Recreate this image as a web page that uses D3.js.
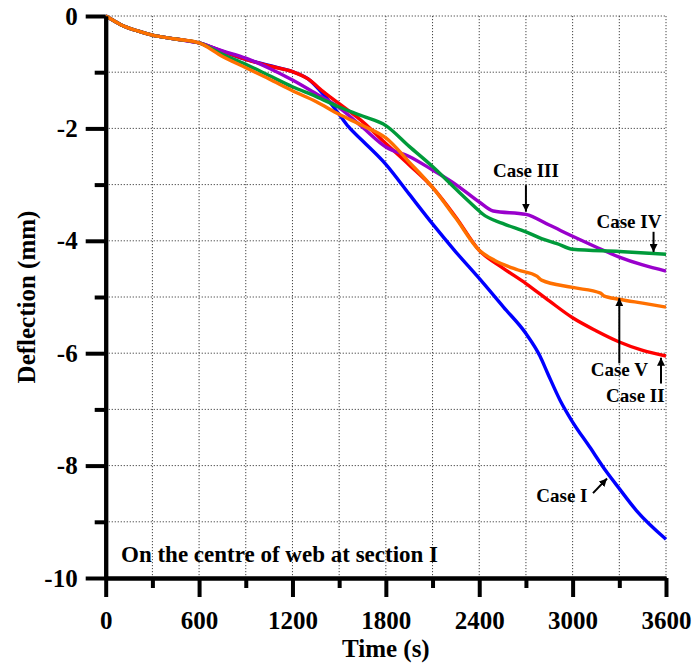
<!DOCTYPE html>
<html>
<head>
<meta charset="utf-8">
<script src="https://cdn.jsdelivr.net/npm/d3@7"></script>
<style>
  html, body { margin: 0; padding: 0; background: #fff; }
  svg { display: block; }
  text { font-family: "Liberation Serif", "Times New Roman", serif; font-weight: bold; fill: #000; }
</style>
</head>
<body>
<svg id="chart" width="694" height="666"></svg>
<script>
// ---------------- data ----------------
const xMajorTicks = [0, 600, 1200, 1800, 2400, 3000, 3600];
const xMinorTicks = [300, 900, 1500, 2100, 2700, 3300];
const yMajorTicks = [0, -2, -4, -6, -8, -10];
const yMinorTicks = [-1, -3, -5, -7, -9];
const xGrid = [300, 600, 900, 1200, 1500, 1800, 2100, 2400, 2700, 3000, 3300, 3600];
const yGrid = [0, -1, -2, -3, -4, -5, -6, -7, -8, -9];

const caseI = [[0,0],[50,-0.08],[100,-0.16],[200,-0.26],[300,-0.34],[450,-0.41],[600,-0.48],[750,-0.63],[900,-0.77],[1050,-0.88],[1200,-0.99],[1300,-1.12],[1400,-1.4],[1500,-1.75],[1560,-1.97],[1650,-2.22],[1800,-2.64],[1950,-3.17],[2100,-3.7],[2250,-4.2],[2400,-4.67],[2556,-5.18],[2700,-5.65],[2790,-6.05],[2840,-6.36],[2920,-6.84],[2990,-7.18],[3110,-7.67],[3220,-8.12],[3300,-8.41],[3410,-8.8],[3600,-9.31]];
const caseII = [[0,0],[50,-0.08],[100,-0.16],[200,-0.26],[300,-0.34],[450,-0.41],[600,-0.48],[750,-0.63],[900,-0.77],[1050,-0.89],[1200,-0.99],[1300,-1.12],[1400,-1.35],[1500,-1.56],[1650,-1.88],[1800,-2.27],[1950,-2.65],[2100,-3.05],[2250,-3.58],[2400,-4.17],[2550,-4.48],[2700,-4.76],[2850,-5.07],[3000,-5.37],[3150,-5.6],[3300,-5.8],[3450,-5.95],[3600,-6.05]];
const caseIII = [[0,0],[50,-0.08],[100,-0.16],[200,-0.26],[300,-0.34],[450,-0.41],[600,-0.48],[750,-0.62],[900,-0.75],[1050,-0.93],[1200,-1.14],[1350,-1.38],[1500,-1.63],[1650,-1.98],[1800,-2.33],[1950,-2.5],[2100,-2.74],[2250,-3.0],[2400,-3.31],[2490,-3.47],[2700,-3.53],[2850,-3.72],[3000,-3.92],[3150,-4.11],[3300,-4.29],[3450,-4.43],[3600,-4.54]];
const caseIV = [[0,0],[50,-0.08],[100,-0.16],[200,-0.26],[300,-0.34],[450,-0.41],[600,-0.48],[750,-0.68],[900,-0.86],[1050,-1.06],[1200,-1.26],[1350,-1.43],[1500,-1.62],[1650,-1.78],[1800,-1.95],[1950,-2.32],[2100,-2.68],[2250,-3.08],[2400,-3.47],[2420,-3.52],[2550,-3.69],[2700,-3.84],[2800,-3.96],[2900,-4.05],[3000,-4.15],[3300,-4.19],[3600,-4.24]];
const caseV = [[0,0],[50,-0.08],[100,-0.16],[200,-0.26],[300,-0.34],[450,-0.41],[600,-0.48],[750,-0.72],[900,-0.92],[1050,-1.12],[1200,-1.33],[1350,-1.52],[1500,-1.75],[1650,-1.95],[1800,-2.17],[1950,-2.6],[2100,-3.05],[2250,-3.6],[2400,-4.17],[2500,-4.35],[2650,-4.52],[2770,-4.63],[2800,-4.7],[3000,-4.83],[3180,-4.93],[3200,-4.98],[3300,-5.04],[3450,-5.11],[3600,-5.18]];

const seriesNames = ["Case I", "Case II", "Case III", "Case IV", "Case V"];
const seriesColors = ["#0000ff", "#ff0000", "#9900cc", "#009a3a", "#ff7000"];

// annotations in data units: label position, arrow tail, arrow tip
const labelNames = ["Case III", "Case IV", "Case V", "Case II", "Case I"];
const labelPos = [[2700,-2.87],[3362,-3.78],[3300,-6.41],[3403,-6.87],[2931,-8.65]];
const arrowTail = [[2700,-3.01],[3520,-3.84],[3300,-6.18],[3568,-6.54],[3131,-8.49]];
const arrowTip = [[2700,-3.48],[3520,-4.2],[3300,-5.02],[3568,-6.08],[3221,-8.23]];

const xLabel = "Time (s)";
const yLabel = "Deflection (mm)";
const noteText = "On the centre of web at section I";

// ---------------- drawing ----------------
const svg = d3.select("#chart");
const mLeft = 105.7, mRight = 666, mTop = 16, mBottom = 578;

const x = d3.scaleLinear().domain([0, 3600]).range([mLeft, mRight]);
const y = d3.scaleLinear().domain([-10, 0]).range([mBottom, mTop]);

svg.append("rect").attr("width", 694).attr("height", 666).attr("fill", "#fff");

// grid
const grid = svg.append("g").attr("stroke", "#444").attr("stroke-width", 1).attr("stroke-dasharray", "1.2,1.8");
grid.selectAll("line.v").data(xGrid).join("line").attr("class", "v")
  .attr("x1", d => x(d)).attr("x2", d => x(d))
  .attr("y1", y(0)).attr("y2", y(-10));
grid.selectAll("line.h").data(yGrid).join("line").attr("class", "h")
  .attr("y1", d => y(d)).attr("y2", d => y(d))
  .attr("x1", x(0)).attr("x2", x(3600));

// lines
const line = d3.line().x(d => x(d[0])).y(d => y(d[1])).curve(d3.curveMonotoneX);
const allSeries = [caseI, caseII, caseIII, caseIV, caseV];
svg.append("g").selectAll("path").data(allSeries).join("path")
  .attr("d", line)
  .attr("fill", "none")
  .attr("stroke", (d, i) => seriesColors[i])
  .attr("stroke-width", 3.4)
  .attr("stroke-linejoin", "round");

// axes
const axisStyle = g => {
  g.selectAll(".domain").attr("stroke", "#000").attr("stroke-width", 4);
  g.selectAll(".tick line").attr("stroke", "#000").attr("stroke-width", 4);
  g.selectAll(".tick text").attr("font-size", 25).attr("font-weight", "bold")
    .attr("font-family", "'Liberation Serif', 'Times New Roman', serif").attr("fill", "#000");
};

svg.append("g").attr("transform", `translate(0,${mBottom})`)
  .call(d3.axisBottom(x).tickValues(xMinorTicks).tickSize(10).tickFormat("").tickSizeOuter(0))
  .call(axisStyle);
svg.append("g").attr("transform", `translate(${mLeft},0)`)
  .call(d3.axisLeft(y).tickValues(yMinorTicks).tickSize(11).tickFormat("").tickSizeOuter(0))
  .call(axisStyle);
svg.append("g").attr("transform", `translate(0,${mBottom})`)
  .call(d3.axisBottom(x).tickValues(xMajorTicks).tickSize(19).tickPadding(14).tickFormat(d3.format("d")).tickSizeOuter(0))
  .call(axisStyle);
svg.append("g").attr("transform", `translate(${mLeft},0)`)
  .call(d3.axisLeft(y).tickValues(yMajorTicks).tickSize(20).tickPadding(8).tickFormat(d => String(d)).tickSizeOuter(0))
  .call(axisStyle);

// axis titles
svg.append("text").attr("x", (mLeft + mRight) / 2).attr("y", 657)
  .attr("text-anchor", "middle").attr("font-size", 25).text(xLabel);
svg.append("text").attr("transform", `translate(35,${(mTop + mBottom) / 2}) rotate(-90)`)
  .attr("text-anchor", "middle").attr("font-size", 25).text(yLabel);

// note
svg.append("text").attr("x", 121).attr("y", 561.5).attr("font-size", 23).text(noteText);

// arrows
const defs = svg.append("defs");
defs.append("marker").attr("id", "ah").attr("viewBox", "0 0 10 10")
  .attr("refX", 10).attr("refY", 5).attr("markerWidth", 4).attr("markerHeight", 4)
  .attr("markerUnits", "strokeWidth").attr("orient", "auto")
  .append("path").attr("d", "M0,0 L10,5 L0,10 z").attr("fill", "#000");

svg.append("g").selectAll("line").data(arrowTail).join("line")
  .attr("x1", d => x(d[0])).attr("y1", d => y(d[1]))
  .attr("x2", (d, i) => x(arrowTip[i][0])).attr("y2", (d, i) => y(arrowTip[i][1]))
  .attr("stroke", "#000").attr("stroke-width", 2).attr("marker-end", "url(#ah)");

svg.append("g").selectAll("text").data(labelPos).join("text")
  .attr("x", d => x(d[0])).attr("y", d => y(d[1]))
  .attr("text-anchor", "middle").attr("font-size", 19)
  .text((d, i) => labelNames[i]);
</script>
</body>
</html>
